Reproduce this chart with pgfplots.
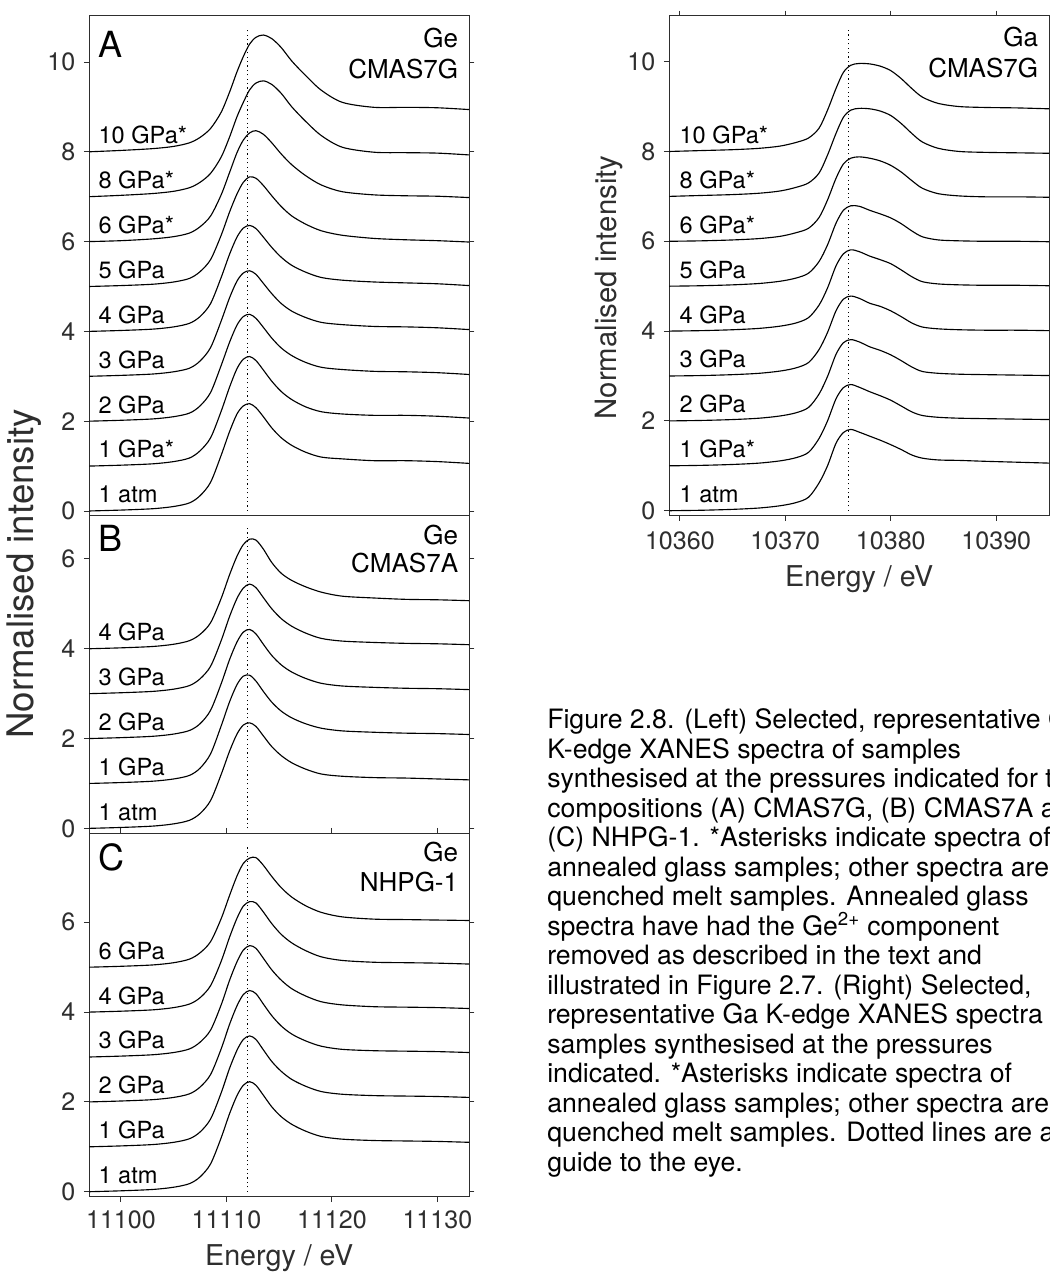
\documentclass[border=0pt]{standalone}
\usepackage{fontspec}
\setmainfont{TeX Gyre Heros}
\usepackage{pgfplots}
\usepackage{pgfplotstable}
\pgfplotsset{compat=1.18}
\definecolor{axgray}{HTML}{2E2E2E}

\newcommand\plab{\fontsize{17.7}{19}\selectfont}
\newcommand\glab{\fontsize{19.5}{21}\selectfont}
\newcommand\blab{\fontsize{27}{30}\selectfont}
\newcommand\caplab{\fontsize{20}{23}\selectfont}

\pgfplotstableread{
x c0 c1 c2 c3 c4 c5 c6 c7 c8
11097 0.00 1.00 2.00 3.00 4.00 5.00 6.00 7.00 8.00
11100 0.02 1.02 2.02 3.02 4.02 5.02 6.02 7.03 8.03
11103 0.05 1.05 2.05 3.05 4.05 5.05 6.06 7.07 8.07
11105 0.10 1.10 2.10 3.10 4.10 5.10 6.11 7.12 8.12
11106.5 0.18 1.18 2.18 3.18 4.18 5.18 6.19 7.20 8.20
11107.5 0.34 1.34 2.34 3.34 4.33 5.33 6.33 7.32 8.32
11108.5 0.64 1.63 2.64 3.64 4.62 5.60 6.57 7.52 8.52
11109.5 1.24 2.22 3.24 4.23 5.20 6.14 7.04 7.88 8.88
11110.3 1.77 2.76 3.76 4.75 5.72 6.66 7.54 8.33 9.33
11111 2.16 3.17 4.14 5.12 6.10 7.06 7.98 8.78 9.78
11111.6 2.34 3.38 4.33 5.30 6.30 7.32 8.26 9.10 10.12
11112.2 2.39 3.44 4.38 5.35 6.36 7.44 8.42 9.38 10.40
11112.8 2.30 3.35 4.29 5.27 6.29 7.41 8.47 9.53 10.55
11113.5 2.10 3.14 4.09 5.07 6.10 7.25 8.39 9.58 10.60
11114.3 1.85 2.89 3.85 4.84 5.87 7.02 8.20 9.50 10.52
11115.2 1.63 2.66 3.63 4.62 5.65 6.78 7.95 9.30 10.32
11116.2 1.46 2.48 3.46 4.45 5.47 6.57 7.71 9.00 10.02
11117.5 1.31 2.32 3.31 4.31 5.32 6.39 7.47 8.68 9.70
11119 1.20 2.21 3.20 4.20 5.20 6.24 7.26 8.36 9.37
11121 1.16 2.16 3.15 4.15 5.14 6.14 7.11 8.10 9.10
11124 1.12 2.13 3.11 4.11 5.10 6.07 7.04 7.99 8.99
11127 1.12 2.13 3.10 4.10 5.08 6.04 7.02 7.98 8.99
11130 1.10 2.11 3.08 4.08 5.06 6.02 7.01 7.97 8.98
11133 1.06 2.07 3.04 4.04 5.02 5.99 6.98 7.93 8.94
}\tblA

\pgfplotstableread{
x c0 c1 c2 c3 c4
11097 0.00 1.00 2.00 3.00 4.00
11100 0.02 1.02 2.02 3.02 4.02
11103 0.05 1.05 2.05 3.05 4.05
11105 0.10 1.10 2.10 3.10 4.10
11106.5 0.18 1.18 2.18 3.18 4.18
11107.5 0.33 1.34 2.33 3.33 4.32
11108.5 0.62 1.66 2.63 3.61 4.58
11109.5 1.20 2.28 3.22 4.18 5.12
11110.3 1.72 2.82 3.76 4.72 5.65
11111 2.10 3.20 4.15 5.12 6.06
11111.6 2.30 3.39 4.37 5.35 6.32
11112.2 2.35 3.41 4.43 5.44 6.44
11112.8 2.27 3.28 4.33 5.36 6.42
11113.5 2.06 3.05 4.10 5.14 6.22
11114.3 1.82 2.81 3.85 4.89 5.92
11115.2 1.62 2.61 3.64 4.67 5.68
11116.2 1.46 2.46 3.48 4.50 5.52
11117.5 1.32 2.33 3.34 4.35 5.38
11119 1.21 2.23 3.23 4.23 5.26
11121 1.16 2.17 3.17 4.17 5.17
11124 1.13 2.14 3.14 4.14 5.13
11127 1.12 2.12 3.12 4.12 5.10
11130 1.10 2.11 3.11 4.11 5.09
11133 1.08 2.09 3.09 4.09 5.07
}\tblB

\pgfplotstableread{
x c0 c1 c2 c3 c4 c5
11097 0.00 1.00 2.00 3.00 4.00 5.00
11100 0.02 1.02 2.02 3.02 4.02 5.02
11103 0.05 1.05 2.05 3.05 4.05 5.05
11105 0.10 1.10 2.10 3.10 4.10 5.10
11106.5 0.18 1.18 2.18 3.18 4.18 5.18
11107.5 0.33 1.33 2.33 3.33 4.32 5.32
11108.5 0.62 1.62 2.61 3.60 4.59 5.57
11109.5 1.20 2.20 3.18 4.16 5.13 6.08
11110.3 1.74 2.75 3.73 4.71 5.67 6.60
11111 2.14 3.15 4.14 5.12 6.09 7.03
11111.6 2.37 3.39 4.39 5.38 6.36 7.31
11112.2 2.45 3.47 4.48 5.48 6.46 7.43
11112.8 2.37 3.39 4.41 5.42 6.43 7.44
11113.5 2.15 3.16 4.18 5.20 6.23 7.27
11114.3 1.89 2.90 3.92 4.94 5.97 7.02
11115.2 1.67 2.68 3.69 4.71 5.73 6.77
11116.2 1.50 2.50 3.51 4.52 5.54 6.56
11117.5 1.35 2.35 3.36 4.36 5.37 6.37
11119 1.23 2.23 3.24 4.23 5.23 6.22
11121 1.17 2.17 3.17 4.16 5.15 6.12
11124 1.14 2.14 3.14 4.12 5.11 6.07
11127 1.13 2.13 3.13 4.11 5.10 6.06
11130 1.12 2.12 3.12 4.10 5.09 6.05
11133 1.10 2.10 3.10 4.08 5.07 6.04
}\tblC

\pgfplotstableread{
x c0 c1 c2 c3 c4 c5 c6 c7 c8
10359 0.00 1.00 2.00 3.00 4.00 5.00 6.00 7.00 8.00
10362 0.01 1.01 2.01 3.01 4.01 5.01 6.01 7.02 8.02
10365 0.03 1.03 2.03 3.03 4.03 5.03 6.03 7.04 8.04
10367.5 0.06 1.06 2.06 3.06 4.06 5.06 6.06 7.07 8.07
10369.5 0.11 1.11 2.11 3.11 4.11 5.11 6.11 7.12 8.12
10371 0.18 1.18 2.18 3.18 4.18 5.18 6.19 7.20 8.20
10372.2 0.30 1.30 2.30 3.30 4.30 5.29 6.29 7.30 8.30
10373.2 0.62 1.61 2.60 3.59 4.58 5.55 6.53 7.52 8.52
10374 1.00 2.00 2.99 3.97 4.96 5.92 6.92 7.92 8.92
10374.8 1.50 2.49 3.48 4.45 5.45 6.40 7.40 8.40 9.40
10375.5 1.74 2.74 3.74 4.71 5.72 6.69 7.72 8.76 9.76
10376.2 1.81 2.81 3.81 4.78 5.81 6.79 7.85 8.92 9.92
10377 1.75 2.75 3.76 4.73 5.77 6.78 7.88 8.96 9.96
10378 1.66 2.65 3.65 4.62 5.67 6.69 7.85 8.95 9.95
10379 1.57 2.56 3.57 4.55 5.59 6.61 7.79 8.90 9.90
10380 1.47 2.46 3.47 4.45 5.50 6.52 7.69 8.80 9.80
10381 1.36 2.33 3.34 4.32 5.36 6.39 7.54 8.62 9.62
10382 1.24 2.20 3.20 4.18 5.21 6.23 7.35 8.40 9.40
10383 1.17 2.12 3.10 4.09 5.10 6.10 7.18 8.21 9.21
10384.5 1.13 2.08 3.06 4.05 5.05 6.03 7.06 8.07 9.07
10386.5 1.12 2.06 3.04 4.03 5.03 6.01 7.01 8.00 9.00
10389 1.10 2.05 3.03 4.02 5.02 6.00 6.99 7.98 8.98
10392 1.08 2.04 3.02 4.02 5.02 6.00 6.99 7.97 8.97
10395 1.06 2.03 3.01 4.01 5.01 5.99 6.98 7.96 8.95
}\tblGa

\pgfplotsset{
  panel/.style={
    scale only axis,
    width=284.8pt,
    axis line style={draw=axgray, line width=0.7pt},
    tick style={draw=axgray, line width=0.7pt},
    major tick length=4pt,
    tick align=outside,
    ytick pos=both, yticklabel pos=left,
    tick label style={font=\fontsize{18.8}{20}\selectfont, text=axgray},
    yticklabel style={xshift=-3pt},
    scaled x ticks=false, scaled y ticks=false,
    /pgf/number format/assume math mode=true,
    /pgf/number format/1000 sep={},
    clip=false,
  },
  curve/.style={black, line width=0.85pt, smooth, tension=0.5, mark=none},
  dots/.style={black, line width=0.9pt, dash pattern=on 0.9pt off 2.4pt, mark=none},
}

\begin{document}
\begin{tikzpicture}[x=0.75pt,y=0.75pt]
\useasboundingbox (0,0) rectangle (1050,1272);
\clip (0,0) rectangle (1050,1272);

% ---------------- Panel A ----------------
\begin{axis}[panel, at={(66.975pt,567.225pt)}, anchor=south west, height=374.8pt,
  xmin=11097, xmax=11133, ymin=-0.105, ymax=11.025,
  xtick=\empty, ytick={0,2,4,6,8,10}]
\addplot[dots] coordinates {(11112,0) (11112,10.75)};
\pgfplotsinvokeforeach{0,...,8}{\addplot[curve] table[x=x,y=c#1]{\tblA};}
\node[anchor=base west, inner sep=0pt, font=\blab] at (axis cs:11097.85,10.11) {A};
\node[anchor=base east, inner sep=0pt, font=\glab] at (axis cs:11131.99,10.32) {Ge};
\node[anchor=base east, inner sep=0pt, font=\glab] at (axis cs:11131.99,9.63) {CMAS7G};
\node[anchor=base west, inner sep=0pt, font=\plab] at (axis cs:11097.85,0.18) {1 atm};
\node[anchor=base west, inner sep=0pt, font=\plab] at (axis cs:11097.85,1.18) {1 GPa*};
\node[anchor=base west, inner sep=0pt, font=\plab] at (axis cs:11097.85,2.18) {2 GPa};
\node[anchor=base west, inner sep=0pt, font=\plab] at (axis cs:11097.85,3.18) {3 GPa};
\node[anchor=base west, inner sep=0pt, font=\plab] at (axis cs:11097.85,4.18) {4 GPa};
\node[anchor=base west, inner sep=0pt, font=\plab] at (axis cs:11097.85,5.18) {5 GPa};
\node[anchor=base west, inner sep=0pt, font=\plab] at (axis cs:11097.85,6.18) {6 GPa*};
\node[anchor=base west, inner sep=0pt, font=\plab] at (axis cs:11097.85,7.18) {8 GPa*};
\node[anchor=base west, inner sep=0pt, font=\plab] at (axis cs:11097.85,8.18) {10 GPa*};
\end{axis}

% ---------------- Panel B ----------------
\begin{axis}[panel, at={(66.975pt,329.025pt)}, anchor=south west, height=238.2pt,
  xmin=11097, xmax=11133, ymin=-0.11, ymax=6.963,
  xtick=\empty, ytick={0,2,4,6}]
\addplot[dots] coordinates {(11112,0) (11112,6.72)};
\pgfplotsinvokeforeach{0,...,4}{\addplot[curve] table[x=x,y=c#1]{\tblB};}
\node[anchor=base west, inner sep=0pt, font=\blab] at (axis cs:11097.85,6.16) {B};
\node[anchor=base east, inner sep=0pt, font=\glab] at (axis cs:11131.99,6.33) {Ge};
\node[anchor=base east, inner sep=0pt, font=\glab] at (axis cs:11131.99,5.69) {CMAS7A};
\node[anchor=base west, inner sep=0pt, font=\plab] at (axis cs:11097.85,0.18) {1 atm};
\node[anchor=base west, inner sep=0pt, font=\plab] at (axis cs:11097.85,1.18) {1 GPa};
\node[anchor=base west, inner sep=0pt, font=\plab] at (axis cs:11097.85,2.18) {2 GPa};
\node[anchor=base west, inner sep=0pt, font=\plab] at (axis cs:11097.85,3.18) {3 GPa};
\node[anchor=base west, inner sep=0pt, font=\plab] at (axis cs:11097.85,4.18) {4 GPa};
\end{axis}

% ---------------- Panel C ----------------
\begin{axis}[panel, at={(66.975pt,56.475pt)}, anchor=south west, height=272.55pt,
  xmin=11097, xmax=11133, ymin=-0.111, ymax=7.982,
  xtick={11100,11110,11120,11130}, xtick pos=both, xticklabel pos=bottom,
  xticklabel style={yshift=-3pt},
  ytick={0,2,4,6}]
\addplot[dots] coordinates {(11112,0) (11112,7.68)};
\pgfplotsinvokeforeach{0,...,5}{\addplot[curve] table[x=x,y=c#1]{\tblC};}
\node[anchor=base west, inner sep=0pt, font=\blab] at (axis cs:11097.85,7.15) {C};
\node[anchor=base east, inner sep=0pt, font=\glab] at (axis cs:11131.99,7.35) {Ge};
\node[anchor=base east, inner sep=0pt, font=\glab] at (axis cs:11131.99,6.68) {NHPG-1};
\node[anchor=base west, inner sep=0pt, font=\plab] at (axis cs:11097.85,0.18) {1 atm};
\node[anchor=base west, inner sep=0pt, font=\plab] at (axis cs:11097.85,1.18) {1 GPa};
\node[anchor=base west, inner sep=0pt, font=\plab] at (axis cs:11097.85,2.18) {2 GPa};
\node[anchor=base west, inner sep=0pt, font=\plab] at (axis cs:11097.85,3.18) {3 GPa};
\node[anchor=base west, inner sep=0pt, font=\plab] at (axis cs:11097.85,4.18) {4 GPa};
\node[anchor=base west, inner sep=0pt, font=\plab] at (axis cs:11097.85,5.18) {6 GPa};
\end{axis}

% ---------------- Ga panel ----------------
\begin{axis}[panel, at={(501.975pt,567.525pt)}, anchor=south west, height=374.5pt,
  xmin=10359, xmax=10395, ymin=-0.102, ymax=11.018,
  xtick={10360,10370,10380,10390}, xtick pos=both, xticklabel pos=bottom,
  xticklabel style={yshift=-5pt},
  ytick={0,2,4,6,8,10}]
\addplot[dots] coordinates {(10376,0) (10376,10.75)};
\pgfplotsinvokeforeach{0,...,8}{\addplot[curve] table[x=x,y=c#1]{\tblGa};}
\node[anchor=base east, inner sep=0pt, font=\glab] at (axis cs:10393.99,10.33) {Ga};
\node[anchor=base east, inner sep=0pt, font=\glab] at (axis cs:10393.99,9.65) {CMAS7G};
\node[anchor=base west, inner sep=0pt, font=\plab] at (axis cs:10359.95,0.18) {1 atm};
\node[anchor=base west, inner sep=0pt, font=\plab] at (axis cs:10359.95,1.18) {1 GPa*};
\node[anchor=base west, inner sep=0pt, font=\plab] at (axis cs:10359.95,2.18) {2 GPa};
\node[anchor=base west, inner sep=0pt, font=\plab] at (axis cs:10359.95,3.18) {3 GPa};
\node[anchor=base west, inner sep=0pt, font=\plab] at (axis cs:10359.95,4.18) {4 GPa};
\node[anchor=base west, inner sep=0pt, font=\plab] at (axis cs:10359.95,5.18) {5 GPa};
\node[anchor=base west, inner sep=0pt, font=\plab] at (axis cs:10359.95,6.18) {6 GPa*};
\node[anchor=base west, inner sep=0pt, font=\plab] at (axis cs:10359.95,7.18) {8 GPa*};
\node[anchor=base west, inner sep=0pt, font=\plab] at (axis cs:10359.95,8.18) {10 GPa*};
\end{axis}

% ---------------- axis titles ----------------
\node[anchor=base, inner sep=0pt, text=axgray, font=\fontsize{21.5}{23}\selectfont] at (279.2,7) {Energy / eV};
\node[anchor=base, inner sep=0pt, text=axgray, font=\fontsize{21.5}{23}\selectfont] at (859.2,685.3) {Energy / eV};
\node[anchor=base, rotate=90, inner sep=0pt, text=axgray, font=\fontsize{27.5}{30}\selectfont] at (33.3,698) {Normalised intensity};
\node[anchor=base, rotate=90, inner sep=0pt, text=axgray, font=\fontsize{22}{24}\selectfont] at (616.7,984.5) {Normalised intensity};

% ---------------- caption ----------------
\begin{scope}[every node/.style={anchor=base west, inner sep=0pt, font=\caplab}]
\node at (547,543) {Figure 2.8. (Left) Selected, representative Ge};
\node at (547,513.5) {K-edge XANES spectra of samples};
\node at (547,484) {synthesised at the pressures indicated for the};
\node at (547,454.5) {compositions (A) CMAS7G, (B) CMAS7A and};
\node at (547,425) {(C) NHPG-1. *Asterisks indicate spectra of};
\node at (547,395.5) {annealed glass samples; other spectra are};
\node at (547,366) {quenched melt samples. Annealed glass};
\node at (547,336.5) {spectra have had the Ge\textsuperscript{2+} component};
\node at (547,307) {removed as described in the text and};
\node at (547,277.5) {illustrated in Figure 2.7. (Right) Selected,};
\node at (547,248) {representative Ga K-edge XANES spectra of};
\node at (547,218.5) {samples synthesised at the pressures};
\node at (547,189) {indicated. *Asterisks indicate spectra of};
\node at (547,159.5) {annealed glass samples; other spectra are};
\node at (547,130) {quenched melt samples. Dotted lines are a};
\node at (547,100.5) {guide to the eye.};
\end{scope}
\end{tikzpicture}
\end{document}
